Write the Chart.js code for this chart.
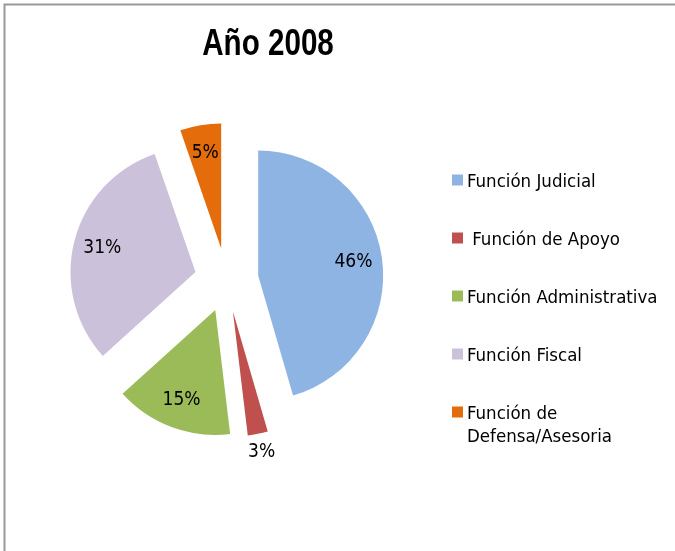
<!DOCTYPE html>
<html>
<head>
<meta charset="utf-8">
<script src="https://cdn.jsdelivr.net/npm/chart.js@4"></script>
<style>
  html, body { margin: 0; padding: 0; background: #fff; }
  #wrap { width: 675px; height: 551px; }
</style>
</head>
<body>
<div id="wrap"><canvas id="pieChart"></canvas></div>
<script>
var categories = ['Función Judicial', ' Función de Apoyo', 'Función Administrativa', 'Función Fiscal', 'Función de Defensa/Asesoria'];
var shares = [45.5, 2.6, 15.2, 31.4, 5.3];
var sliceColors = ['#8EB4E3', '#C0504D', '#9BBB59', '#CCC1DA', '#E46C0A'];
var chartTitle = 'Año 2008';

var R = 125;     // slice radius
var PULL = 32;   // explosion distance of every slice
var FONT = '"DejaVu Sans Condensed", "DejaVu Sans", sans-serif';

// explode every slice the same distance along its middle angle
var explode = {
    id: 'explode',
    beforeDatasetsDraw: function (chart) {
        var a = chart.chartArea;
        var cx = (a.left + a.right) / 2, cy = (a.top + a.bottom) / 2;
        chart.getDatasetMeta(0).data.forEach(function (arc) {
            var mid = (arc.startAngle + arc.endAngle) / 2;
            arc.x = cx + Math.cos(mid) * PULL;
            arc.y = cy + Math.sin(mid) * PULL;
        });
    }
};

var decorations = {
    id: 'decorations',
    beforeDraw: function (chart) {
        var ctx = chart.ctx;
        ctx.save();
        ctx.strokeStyle = '#999';
        ctx.lineWidth = 2;
        ctx.beginPath();
        ctx.moveTo(4.5, 560);
        ctx.lineTo(4.5, 4.5);
        ctx.lineTo(680, 4.5);
        ctx.stroke();
        ctx.restore();
    },
    afterDraw: function (chart) {
        var ctx = chart.ctx;
        ctx.save();

        // title
        ctx.fillStyle = '#000';
        ctx.font = 'bold 37px "Liberation Sans", Arial, sans-serif';
        ctx.textAlign = 'center';
        ctx.textBaseline = 'alphabetic';
        ctx.translate(268, 55);
        ctx.scale(0.8, 1);
        ctx.fillText(chartTitle, 0, 0);
        ctx.setTransform(1, 0, 0, 1, 0, 0);

        // percentage labels
        ctx.font = '19px ' + FONT;
        ctx.textBaseline = 'middle';
        var arcs = chart.getDatasetMeta(0).data;
        arcs.forEach(function (arc, i) {
            var mid = (arc.startAngle + arc.endAngle) / 2;
            var dist = shares[i] < 4 ? R + 19 : R * 0.77;
            var x = arc.x + Math.cos(mid) * dist;
            var y = arc.y + Math.sin(mid) * dist;
            ctx.fillStyle = '#000';
            ctx.fillText(Math.round(shares[i]) + '%', x, y);
        });

        // legend
        ctx.font = '18.5px ' + FONT;
        ctx.textAlign = 'left';
        ctx.textBaseline = 'alphabetic';
        var top = 180;
        categories.forEach(function (label, i) {
            var y = top + i * 58;
            ctx.fillStyle = sliceColors[i];
            ctx.fillRect(452, y - 5.5, 11, 11);
            ctx.fillStyle = '#000';
            var words = label.split(' ');
            var line = '', lines = [];
            words.forEach(function (w, k) {
                var test = k === 0 ? w : line + ' ' + w;
                if (ctx.measureText(test).width > 200 && line.trim()) {
                    lines.push(line);
                    line = w;
                } else {
                    line = test;
                }
            });
            lines.push(line);
            lines.forEach(function (t, k) {
                ctx.fillText(t, 467, y + 6.5 + k * 23);
            });
        });
        ctx.restore();
    }
};

var ctx = document.getElementById('pieChart').getContext('2d');
var pieChart = new Chart(ctx, {
    type: 'pie',
    data: {
        labels: categories,
        datasets: [{
            data: shares,
            backgroundColor: sliceColors,
            borderWidth: 0,
            hoverOffset: 0
        }]
    },
    options: {
        responsive: true,
        maintainAspectRatio: false,
        animation: false,
        radius: R,
        layout: {
            padding: { left: 0, right: 222, top: 20, bottom: 11 }
        },
        plugins: {
            legend: { display: false },
            title: { display: false },
            tooltip: { enabled: false }
        }
    },
    plugins: [explode, decorations]
});
</script>
</body>
</html>
